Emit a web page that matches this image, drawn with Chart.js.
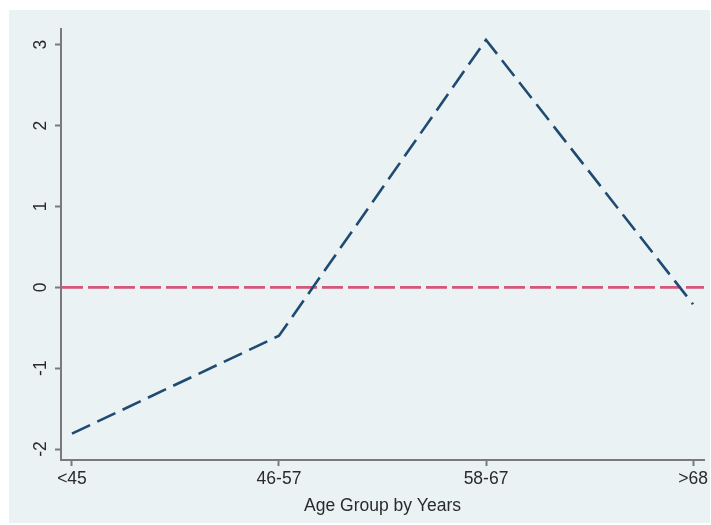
<!DOCTYPE html>
<html>
<head>
<meta charset="utf-8">
<script src="https://cdn.jsdelivr.net/npm/chart.js@4/dist/chart.umd.min.js"></script>
<style>
  html, body { margin: 0; padding: 0; background: #ffffff; }
  #wrap { position: absolute; left: 9px; top: 10px; width: 701px; height: 513px; background: #eaf2f3; }
  canvas { display: block; }
</style>
</head>
<body>
<div id="wrap"><canvas id="c" width="701" height="513"></canvas></div>
<script>
// ---- data ----
const categories = ['<45', '46-57', '58-67', '>68'];
const values = [-1.81, -0.60, 3.06, -0.21];
const yTicks = [-2, -1, 0, 1, 2, 3];
const referenceLines = [0];
const xTitle = 'Age Group by Years';

const FONT = { family: '"Liberation Sans", Arial, Helvetica, sans-serif', size: 17.5 };
const AXIS_GRAY = '#7a7a7a';
const TEXT = '#2a2a2a';

const refLinePlugin = {
  id: 'refLine',
  beforeDatasetsDraw(chart) {
    const { ctx, chartArea, scales } = chart;
    ctx.save();
    ctx.strokeStyle = '#d6557a';
    ctx.lineWidth = 2.8;
    ctx.setLineDash([21, 5]);
    referenceLines.forEach(v => {
      const y = scales.y.getPixelForValue(v);
      ctx.beginPath();
      ctx.moveTo(chartArea.left + 1, y);
      ctx.lineTo(chartArea.right, y);
      ctx.stroke();
    });
    ctx.restore();
  }
};

new Chart(document.getElementById('c'), {
  type: 'line',
  data: {
    datasets: [{
      data: categories.map((c, i) => ({ x: i, y: values[i] })),
      borderColor: '#1f4a72',
      borderWidth: 2.6,
      borderDash: [20, 8],
      pointRadius: 0,
      tension: 0,
      fill: false
    }]
  },
  options: {
    responsive: false,
    animation: false,
    events: [],
    layout: { padding: { top: 19, right: 6, left: 0, bottom: 0 } },
    plugins: { legend: { display: false }, tooltip: { enabled: false } },
    scales: {
      x: {
        type: 'linear',
        min: -0.053,
        max: 3.053,
        afterBuildTicks(s) { s.ticks = categories.map((c, i) => ({ value: i })); },
        afterFit(s) { s.height = 63; s.paddingLeft = 0; s.paddingRight = 0; },
        border: { display: true, color: AXIS_GRAY, width: 2 },
        grid: { drawOnChartArea: false, drawTicks: true, tickLength: 6, tickWidth: 2, tickColor: AXIS_GRAY, color: AXIS_GRAY },
        ticks: {
          autoSkip: false, maxRotation: 0, minRotation: 0, padding: 3,
          color: TEXT, font: FONT,
          callback: (v) => categories[v]
        },
        title: { display: true, text: xTitle, color: TEXT, font: FONT, padding: { top: 0, bottom: 6 } }
      },
      y: {
        type: 'linear',
        min: -2.136,
        max: 3.194,
        afterBuildTicks(s) { s.ticks = yTicks.map(v => ({ value: v })); },
        afterFit(s) { s.width = 52; s.paddingTop = 0; s.paddingBottom = 0; },
        border: { display: true, color: AXIS_GRAY, width: 2 },
        grid: { drawOnChartArea: false, drawTicks: true, tickLength: 6, tickWidth: 2, tickColor: AXIS_GRAY, color: AXIS_GRAY },
        ticks: {
          autoSkip: false, minRotation: 90, maxRotation: 90, crossAlign: 'center', padding: 6,
          color: TEXT, font: FONT,
          callback: (v) => String(v)
        }
      }
    }
  },
  plugins: [refLinePlugin]
});
</script>
</body>
</html>
